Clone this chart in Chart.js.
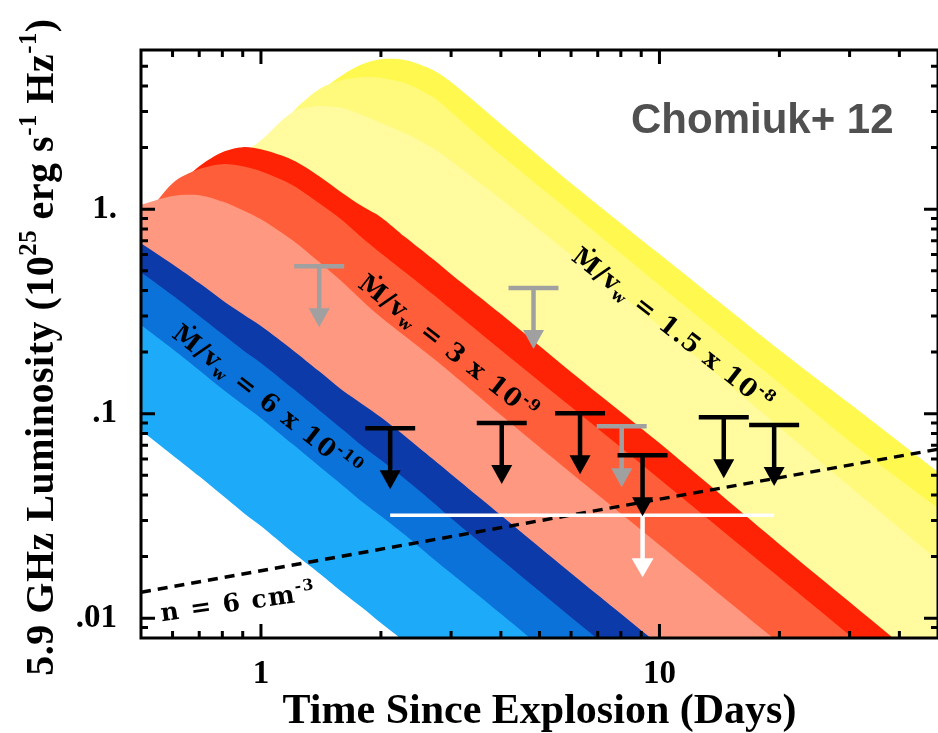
<!DOCTYPE html>
<html>
<head>
<meta charset="utf-8">
<script src="https://cdn.jsdelivr.net/npm/chart.js@4"></script>
<style>
  html, body { margin: 0; padding: 0; background: #fff; }
  #wrap { width: 938px; height: 733px; }
</style>
</head>
<body>
<div id="wrap"><canvas id="chart" width="938" height="733"></canvas></div>
<script>
// time grid (days) shared by all model curves
var days = [0.5, 0.6, 0.7, 0.8, 0.9, 1, 1.2, 1.4, 1.6, 1.8, 2, 2.3, 2.7, 3, 4, 6, 10, 20, 30, 50];

// model bands, upper edge of each (1e25 erg/s/Hz)
var yellowTop = [0.286, 0.450, 0.705, 1.05, 1.52, 1.95, 2.79, 3.73, 4.52, 5.12, 5.41, 5.36, 4.79, 4.18, 2.61, 1.34, 0.603, 0.205, 0.112, 0.0518];
var yellowMid = [0.256, 0.402, 0.631, 0.935, 1.39, 1.84, 2.98, 3.86, 4.28, 4.42, 4.38, 4.13, 3.53, 2.98, 1.84, 0.966, 0.425, 0.141, 0.0734, 0.0345];
var yellowLow = [0.229, 0.359, 0.705, 1.31, 1.84, 2.17, 2.98, 3.19, 3.12, 2.88, 2.64, 2.35, 1.99, 1.72, 1.12, 0.596, 0.268, 0.0859, 0.0442, 0.0192];
var redTop = [0.705, 1.21, 1.62, 1.90, 2.01, 1.96, 1.74, 1.45, 1.20, 1.03, 0.914, 0.730, 0.570, 0.481, 0.307, 0.160, 0.0718, 0.0230, 0.0120, 0.00526];
var redMid = [0.863, 1.34, 1.57, 1.66, 1.62, 1.53, 1.31, 1.07, 0.883, 0.721, 0.609, 0.492, 0.384, 0.324, 0.205, 0.108, 0.0479, 0.0158, 0.00826, 0.00367];
var redLow = [1.05, 1.16, 1.17, 1.09, 0.989, 0.893, 0.705, 0.551, 0.440, 0.355, 0.296, 0.239, 0.187, 0.158, 0.0984, 0.0512, 0.0228, 0.00755, 0.00397, 0.00177];
var blueTop = [0.682, 0.538, 0.435, 0.359, 0.307, 0.268, 0.205, 0.161, 0.130, 0.111, 0.0961, 0.0776, 0.0600, 0.0506, 0.0319, 0.0166, 0.00738, 0.00239, 0.00126, 0.00056];
var blueMid = [0.492, 0.379, 0.300, 0.245, 0.205, 0.177, 0.133, 0.104, 0.0839, 0.0693, 0.0593, 0.0479, 0.0369, 0.0308, 0.0194, 0.0101, 0.00450, 0.00149, 0.000776, 0.000345];
var blueLow = [0.271, 0.207, 0.163, 0.132, 0.111, 0.0951, 0.0710, 0.0553, 0.0447, 0.0369, 0.0316, 0.0255, 0.0196, 0.0166, 0.0105, 0.00544, 0.00242, 0.0008, 0.00042, 0.00019];
var blueFloor = [0.0830, 0.0627, 0.0494, 0.0399, 0.0330, 0.0282, 0.0210, 0.0166, 0.0134, 0.0112, 0.00946, 0.00764, 0.00596, 0.00498, 0.00317, 0.00169, 0.00075, 0.000255, 0.000134, 0.00006];

// n = 6 cm^-3 line
var densityDays = [0.5, 50];
var densityLum = [0.0134, 0.067];

// upper limits
var grayDays = [1.40, 4.83, 8.04];
var grayLum = [0.526, 0.411, 0.0869];
var blackDays = [2.11, 4.02, 6.32, 9.07, 14.5, 19.4];
var blackLum = [0.0849, 0.0899, 0.1005, 0.0627, 0.0961, 0.0879];
var stackDays = [2.11, 19.4];
var stackArrowDay = 9.07;
var stackLum = 0.0319;

// axes
var xTickValues = [1, 10];
var xTickLabels = ["1", "10"];
var xMinor = [0.6, 0.7, 0.8, 0.9, 2, 3, 4, 5, 6, 7, 8, 9, 20, 30, 40];
var yTickValues = [0.01, 0.1, 1];
var yTickLabels = [".01", ".1", "1."];
var yMinor = [0.009, 0.02, 0.03, 0.04, 0.05, 0.06, 0.07, 0.08, 0.09, 0.2, 0.3, 0.4, 0.5, 0.6, 0.7, 0.8, 0.9, 2, 3, 4, 5];

// band labels
var labelDays = [0.594, 1.74, 5.97];
var labelLum = [0.239, 0.420, 0.569];
var labelText = [
  [["Ṁ/v", ""], ["w", "sub"], [" = 6 x 10", ""], ["-10", "sup"]],
  [["Ṁ/v", ""], ["w", "sub"], [" = 3 x 10", ""], ["-9", "sup"]],
  [["Ṁ/v", ""], ["w", "sub"], [" = 1.5 x 10", ""], ["-8", "sup"]]
];
var nLabelDay = 0.564;
var nLabelLum = 0.00967;

var bands = [
  { vals: yellowTop, color: "#FFF94F" },
  { vals: yellowMid, color: "#FFFA7C" },
  { vals: yellowLow, color: "#FFFB9E" },
  { vals: redTop, color: "#FF2305" },
  { vals: redMid, color: "#FF5E3A" },
  { vals: redLow, color: "#FF9880" },
  { vals: blueTop, color: "#0D3AA9" },
  { vals: blueMid, color: "#0B72DA" },
  { vals: blueLow, color: "#1DAAF9" },
  { vals: blueFloor, color: "#FFFFFF" }
];

function pts(vals) {
  return days.map(function (d, i) { return { x: d, y: vals[i] }; });
}

var datasets = bands.map(function (b, i) {
  return {
    data: pts(b.vals),
    backgroundColor: b.color,
    borderWidth: 0,
    pointRadius: 0,
    fill: "start",
    tension: 0.3,
    order: 100 - i
  };
});

datasets.push({
  data: densityDays.map(function (d, i) { return { x: d, y: densityLum[i] }; }),
  borderColor: "#000",
  borderWidth: 3.5,
  borderDash: [10, 7],
  pointRadius: 0,
  fill: false,
  order: 1
});

function drawRich(ctx, parts, x, y, angle, size, family, align, spacing) {
  ctx.save();
  ctx.translate(x, y);
  ctx.rotate(angle);
  ctx.textBaseline = "alphabetic";
  ctx.textAlign = "left";
  ctx.letterSpacing = (spacing || 0) + "px";
  var total = 0;
  parts.forEach(function (p) {
    ctx.font = "bold " + (p[1] ? size * 0.62 : size) + "px " + family;
    total += ctx.measureText(p[0]).width;
  });
  var cx = align === "center" ? -total / 2 : 0;
  parts.forEach(function (p) {
    var s = p[1] ? size * 0.62 : size;
    ctx.font = "bold " + s + "px " + family;
    var dy = p[1] === "sup" ? -size * 0.42 : (p[1] === "sub" ? size * 0.2 : 0);
    ctx.fillText(p[0], cx, dy);
    cx += ctx.measureText(p[0]).width;
  });
  ctx.restore();
}

function drawLimit(ctx, px, py, color, len) {
  ctx.save();
  ctx.strokeStyle = color;
  ctx.fillStyle = color;
  ctx.lineWidth = 4.5;
  ctx.beginPath();
  ctx.moveTo(px - 25, py);
  ctx.lineTo(px + 25, py);
  ctx.moveTo(px, py);
  ctx.lineTo(px, py + len - 17);
  ctx.stroke();
  ctx.beginPath();
  ctx.moveTo(px - 10.5, py + len - 19);
  ctx.lineTo(px + 10.5, py + len - 19);
  ctx.lineTo(px, py + len);
  ctx.closePath();
  ctx.fill();
  ctx.restore();
}

var extras = {
  id: "extras",
  afterDatasetsDraw: function (chart) {
    var ctx = chart.ctx;
    var xs = chart.scales.x, ys = chart.scales.y;
    var a = chart.chartArea;

    ctx.save();
    ctx.beginPath();
    ctx.rect(a.left, a.top, a.right - a.left, a.bottom - a.top);
    ctx.clip();

    // band labels
    ctx.fillStyle = "#000";
    labelText.forEach(function (parts, i) {
      drawRich(ctx, parts, xs.getPixelForValue(labelDays[i]), ys.getPixelForValue(labelLum[i]),
        38 * Math.PI / 180, 25, "'DejaVu Serif'", "left", 1);
    });
    drawRich(ctx, [["n = 6 cm", ""], ["-3", "sup"]], xs.getPixelForValue(nLabelDay), ys.getPixelForValue(nLabelLum),
      -8 * Math.PI / 180, 25, "'DejaVu Serif'", "left", 1.5);

    // stacked limit (white)
    var wy = ys.getPixelForValue(stackLum);
    ctx.strokeStyle = "#fff";
    ctx.lineWidth = 3.5;
    ctx.beginPath();
    ctx.moveTo(xs.getPixelForValue(stackDays[0]), wy);
    ctx.lineTo(xs.getPixelForValue(stackDays[1]), wy);
    ctx.stroke();
    var wx = xs.getPixelForValue(stackArrowDay);
    ctx.lineWidth = 4.5;
    ctx.beginPath();
    ctx.moveTo(wx, wy);
    ctx.lineTo(wx, wy + 45);
    ctx.stroke();
    ctx.fillStyle = "#fff";
    ctx.beginPath();
    ctx.moveTo(wx - 11, wy + 43);
    ctx.lineTo(wx + 11, wy + 43);
    ctx.lineTo(wx, wy + 62);
    ctx.closePath();
    ctx.fill();

    // upper limits
    grayDays.forEach(function (d, i) {
      drawLimit(ctx, xs.getPixelForValue(d), ys.getPixelForValue(grayLum[i]), "#A0A0A0", 61);
    });
    blackDays.forEach(function (d, i) {
      drawLimit(ctx, xs.getPixelForValue(d), ys.getPixelForValue(blackLum[i]), "#000", 61);
    });
    ctx.restore();

    // frame with inward ticks
    ctx.save();
    ctx.strokeStyle = "#000";
    ctx.lineWidth = 3;
    ctx.strokeRect(a.left, a.top, a.right - a.left, a.bottom - a.top);
    ctx.beginPath();
    function xTick(v, len) {
      var p = xs.getPixelForValue(v);
      ctx.moveTo(p, a.bottom); ctx.lineTo(p, a.bottom - len);
      ctx.moveTo(p, a.top); ctx.lineTo(p, a.top + len);
    }
    function yTick(v, len) {
      var p = ys.getPixelForValue(v);
      ctx.moveTo(a.left, p); ctx.lineTo(a.left + len, p);
      ctx.moveTo(a.right, p); ctx.lineTo(a.right - len, p);
    }
    xTickValues.forEach(function (v) { xTick(v, 14); });
    xMinor.forEach(function (v) { xTick(v, 7); });
    yTickValues.forEach(function (v) { yTick(v, 14); });
    yMinor.forEach(function (v) { yTick(v, 7); });
    ctx.stroke();
    ctx.restore();

    // y title
    ctx.fillStyle = "#000";
    drawRich(ctx, [["5.9 GHz Luminosity (10", ""], ["25", "sup"], [" erg s", ""], ["-1", "sup"], [" Hz", ""], ["-1", "sup"], [")", ""]],
      53, 347, -Math.PI / 2, 40, "'Liberation Serif'", "center", 0.5);

    // reference tag
    ctx.save();
    ctx.fillStyle = "#505050";
    ctx.font = "bold 42px 'Liberation Sans'";
    ctx.textBaseline = "alphabetic";
    ctx.fillText("Chomiuk+ 12", 631, 133);
    ctx.restore();
  }
};

var tickFont = { family: "Liberation Serif", size: 33, weight: "bold" };

var chart = new Chart(document.getElementById("chart").getContext("2d"), {
  type: "line",
  data: { datasets: datasets },
  options: {
    responsive: false,
    animation: false,
    layout: { padding: { top: 50, right: -6, left: 0, bottom: 0 } },
    plugins: { legend: { display: false }, tooltip: { enabled: false } },
    scales: {
      x: {
        type: "logarithmic",
        min: 0.5,
        max: 50,
        grid: { display: false },
        border: { display: false },
        afterFit: function (s) { s.height = 95; },
        afterBuildTicks: function (s) { s.ticks = xTickValues.map(function (v) { return { value: v }; }); },
        ticks: {
          callback: function (v, i) { return xTickLabels[i]; },
          font: tickFont, color: "#000", padding: 9, maxRotation: 0, autoSkip: false
        },
        title: {
          display: true,
          text: "Time Since Explosion (Days)",
          font: { family: "Liberation Serif", size: 42, weight: "bold", lineHeight: 1 },
          color: "#000",
          padding: 0
        }
      },
      y: {
        type: "logarithmic",
        min: 0.008,
        max: 6,
        grid: { display: false },
        border: { display: false },
        afterFit: function (s) { s.width = 141; },
        afterBuildTicks: function (s) { s.ticks = yTickValues.map(function (v) { return { value: v }; }); },
        ticks: {
          callback: function (v, i) { return yTickLabels[i]; },
          font: tickFont, color: "#000", padding: 16, autoSkip: false
        }
      }
    }
  },
  plugins: [extras]
});
</script>
</body>
</html>
